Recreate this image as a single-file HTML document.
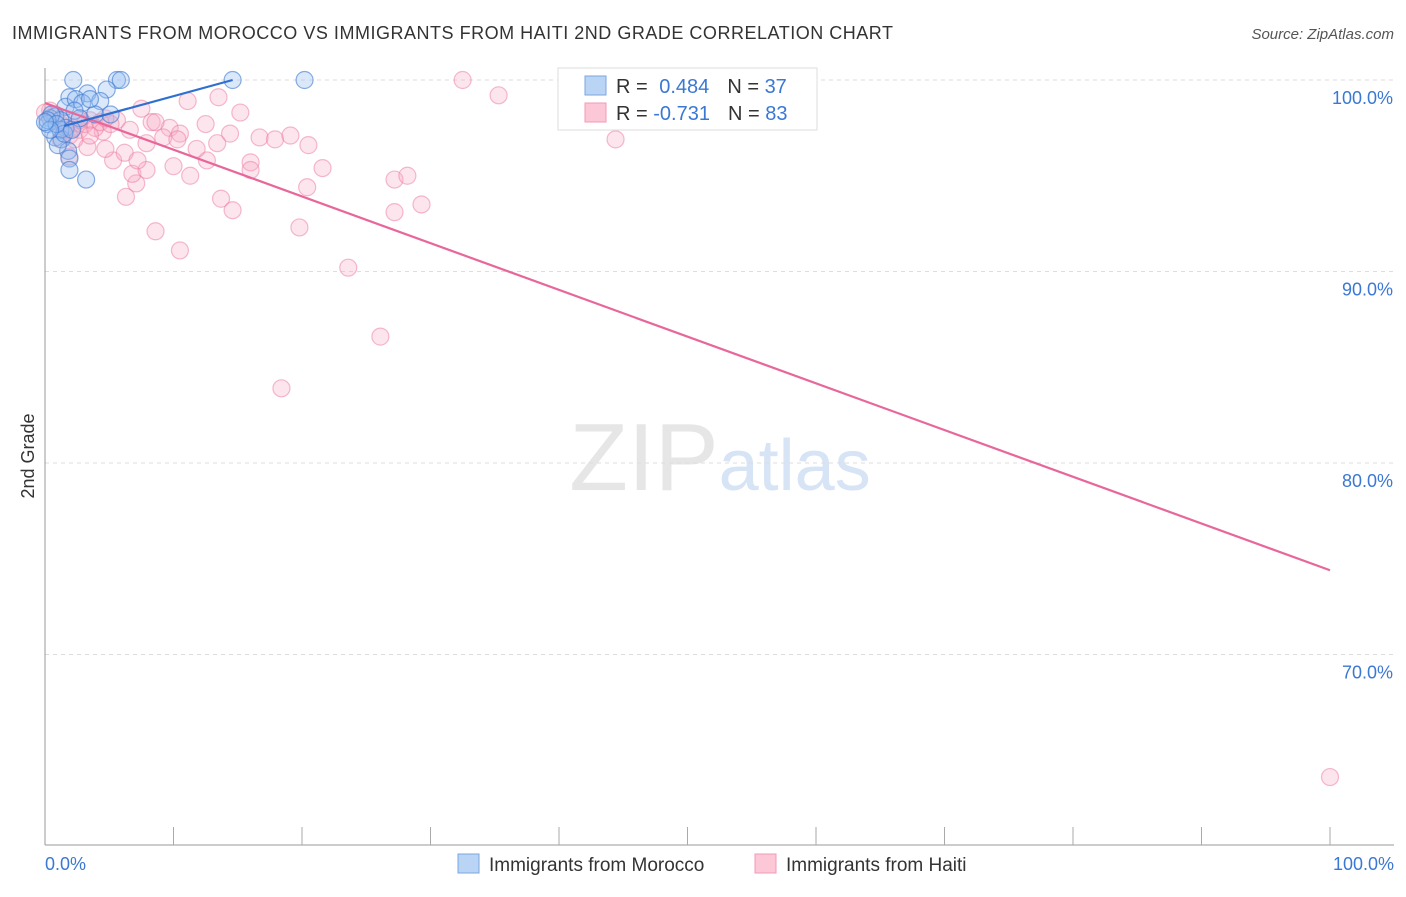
<!DOCTYPE html>
<html><head><meta charset="utf-8">
<style>
body{margin:0;background:#fff;font-family:"Liberation Sans",sans-serif;}
svg text{font-family:"Liberation Sans",sans-serif;}
</style></head>
<body>
<svg id="chart" width="1406" height="892" xmlns="http://www.w3.org/2000/svg">
<text x="12" y="39" font-size="18" fill="#333" textLength="881" lengthAdjust="spacing">IMMIGRANTS FROM MOROCCO VS IMMIGRANTS FROM HAITI 2ND GRADE CORRELATION CHART</text>
<text x="1394" y="39" font-size="15" fill="#555" text-anchor="end" font-style="italic">Source: ZipAtlas.com</text>
<text x="720" y="490" font-size="96" text-anchor="middle" fill="#e6e6e6" font-family="Liberation Serif">ZIP<tspan fill="#d6e4f5" font-family="Liberation Sans" font-size="72">atlas</tspan></text>
<text transform="translate(34,456) rotate(-90)" font-size="18" fill="#333" text-anchor="middle">2nd Grade</text>
<g id="grid"></g>
<g id="axes"></g>
<g id="marks"></g>
<g>
<rect x="558" y="68" width="259" height="62" fill="#fff" stroke="#ddd"/>
<rect x="585" y="76" width="21" height="19" fill="#b9d4f5" stroke="#7aa6e0"/>
<rect x="585" y="103" width="21" height="19" fill="#fcc8d8" stroke="#f09ab5"/>
<text x="616" y="93" font-size="20" fill="#333">R = <tspan fill="#3a78d4" dx="6">0.484</tspan><tspan dx="18" fill="#333">N = </tspan><tspan fill="#3a78d4">37</tspan></text>
<text x="616" y="120" font-size="20" fill="#333">R = <tspan fill="#3a78d4">-0.731</tspan><tspan dx="18" fill="#333">N = </tspan><tspan fill="#3a78d4">83</tspan></text>
</g>
<g>
<rect x="458" y="854" width="21" height="19" fill="#b9d4f5" stroke="#7aa6e0"/>
<text x="489" y="871" font-size="19" fill="#333">Immigrants from Morocco</text>
<rect x="755" y="854" width="21" height="19" fill="#fcc8d8" stroke="#f09ab5"/>
<text x="786" y="871" font-size="19" fill="#333">Immigrants from Haiti</text>
</g>
</svg>
<script>
const moroccoX=[2.2,5.6,5.9,14.6,20.2,1.9,3.3,4.8,4.3,1.6,2.4,2.9,0.8,0.4,1.2,0.2,1.6,0.8,1.3,1.8,1.9,1.9,3.2,1.2,0.5,0.2,2.3,3.9,5.1,2.7,1.0,1.5,3.5,0.9,2.1,0.4,0];
const moroccoY=[100,100,100,100,100,99.1,99.3,99.5,98.9,98.6,99.0,98.8,98.1,98.0,97.9,97.7,97.5,97.0,96.9,96.3,95.9,95.3,94.8,97.4,98.2,97.9,98.4,98.2,98.2,98.0,96.6,97.2,99.0,97.7,97.4,97.4,97.8];
const haitiX=[7.5,11.1,13.5,15.2,8.3,9.7,10.5,12.5,14.4,16.7,17.9,19.1,20.5,21.6,20.4,19.8,13.7,14.6,8.6,10.5,6.3,7.1,6.8,7.9,5.3,6.2,4.7,3.3,4.5,6.6,5.6,3.5,2.7,10.0,11.3,12.6,11.8,13.4,16.0,16.0,9.2,10.3,8.6,1.9,1.2,2.2,7.9,7.2,32.5,35.3,44.4,27.2,28.2,27.2,29.3,23.6,26.1,18.4,100,0.4,0.8,1.2,1.6,1.9,0,3.1,3.9,4.3,2.3,3.5,5.1,4.7,1.3,2.7];
const haitiY=[98.5,98.9,99.1,98.3,97.8,97.5,97.2,97.7,97.2,97.0,96.9,97.1,96.6,95.4,94.4,92.3,93.8,93.2,92.1,91.1,93.9,94.6,95.1,95.3,95.8,96.2,96.4,96.5,97.3,97.4,97.9,97.9,97.4,95.5,95.0,95.8,96.4,96.7,95.7,95.3,97.0,96.9,97.8,96.0,96.9,97.5,96.7,95.8,100,99.2,96.9,94.8,95.0,93.1,93.5,90.2,86.6,83.9,63.6,98.4,98.2,97.7,97.4,97.1,98.3,97.7,97.5,97.8,96.9,97.1,97.7,98.0,98.0,97.9];
const moroccoTrendX=[1.5,14.6];
const moroccoTrendY=[97.6,100];
const haitiTrendX=[0,100];
const haitiTrendY=[98.8,74.4];
const yTicks=[100,90,80,70];
const yTickLabels=["100.0%","90.0%","80.0%","70.0%"];
const xLabels=["0.0%","100.0%"];

const NS="http://www.w3.org/2000/svg";
const sx=v=>45+v*12.85;
const sy=v=>80+(100-v)*19.15;
function mk(tag,attrs,parent){const e=document.createElementNS(NS,tag);for(const k in attrs)e.setAttribute(k,attrs[k]);parent.appendChild(e);return e;}
const grid=document.getElementById('grid'),axes=document.getElementById('axes'),marks=document.getElementById('marks');
yTicks.forEach((t,i)=>{
  const l=mk('line',{x1:45,x2:1394,y1:sy(t),y2:sy(t),stroke:'#ddd','stroke-dasharray':'4,4'},grid);
  
  
  const tx=mk('text',{x:1393,y:sy(t)+24,'font-size':18,fill:'#3a78d4','text-anchor':'end'},axes);
  tx.textContent=yTickLabels[i];
  
  
});
const ya=mk('line',{x1:45,x2:45,y1:68,y2:845,stroke:'#999'},axes);


const xa=mk('line',{x1:45,x2:1394,y1:845,y2:845,stroke:'#999'},axes);


for(let i=1;i<=10;i++){
  const tk=mk('line',{x1:sx(i*10),x2:sx(i*10),y1:827,y2:845,stroke:'#aaa'},axes);
  
  
}
[[0,'start',45],[1,'end',1394]].forEach(([i,a,x])=>{
  const t=mk('text',{x:x,y:870,'font-size':18,fill:'#3a78d4','text-anchor':a},axes);
  t.textContent=xLabels[i];
  
  
});
haitiX.forEach((x,i)=>{
  const c=mk('circle',{cx:sx(x),cy:sy(haitiY[i]),r:8.5,fill:'rgba(248,170,195,0.3)',stroke:'rgba(235,120,160,0.5)','stroke-width':1.2},marks);
  
  
});
moroccoX.forEach((x,i)=>{
  const c=mk('circle',{cx:sx(x),cy:sy(moroccoY[i]),r:8.5,fill:'rgba(150,190,240,0.35)',stroke:'rgba(60,120,210,0.6)','stroke-width':1.2},marks);
  
  
});
const hl=mk('line',{x1:sx(haitiTrendX[0]),y1:sy(haitiTrendY[0]),x2:sx(haitiTrendX[1]),y2:sy(haitiTrendY[1]),stroke:'#e8679a','stroke-width':2.2},marks);


const ml=mk('line',{x1:sx(moroccoTrendX[0]),y1:sy(moroccoTrendY[0]),x2:sx(moroccoTrendX[1]),y2:sy(moroccoTrendY[1]),stroke:'#2f6fd0','stroke-width':2.2},marks);


</script>
</body></html>
